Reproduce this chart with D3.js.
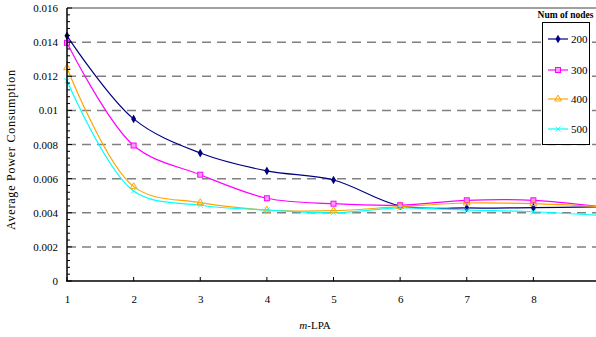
<!DOCTYPE html>
<html><head><meta charset="utf-8">
<script src="https://cdn.jsdelivr.net/npm/d3@7"></script>
<style>body{margin:0;background:#fff}svg{display:block}</style>
</head><body>
<svg id="c" width="596" height="337"></svg>
<script>
const xValues = [1, 2, 3, 4, 5, 6, 7, 8, 9];
const seriesNames = ["200", "300", "400", "500"];
const s200 = [0.01437, 0.0095, 0.0075, 0.00645, 0.00592, 0.0044, 0.00428, 0.0043, 0.00435];
const s300 = [0.01396, 0.00794, 0.00623, 0.00485, 0.00453, 0.00444, 0.00473, 0.00473, 0.00436];
const s400 = [0.0125, 0.00553, 0.00459, 0.00416, 0.00412, 0.00436, 0.00457, 0.00453, 0.00436];
const s500 = [0.01173, 0.00528, 0.00444, 0.00416, 0.004, 0.00428, 0.00416, 0.00406, 0.00385];
const yTicks = [0, 0.002, 0.004, 0.006, 0.008, 0.01, 0.012, 0.014, 0.016];
const yTickLabels = ["0", "0.002", "0.004", "0.006", "0.008", "0.01", "0.012", "0.014", "0.016"];
const xTicks = [1, 2, 3, 4, 5, 6, 7, 8];
const legendTitle = "Num of nodes";

const colors = ["#000080", "#ff00ff", "#ffa500", "#00ffff"];
const allSeries = [s200, s300, s400, s500];

const svg = d3.select("#c");
const font = "'Liberation Serif','Times New Roman',serif";
const x = d3.scaleLinear().domain([1, 9]).range([67, 600]);
const y = d3.scaleLinear().domain([0, 0.016]).range([281, 8]);

// gridlines
const grid = svg.append("g");
yTicks.forEach(t => {
  if (t === 0) return;
  grid.append("line").attr("x1", 67).attr("x2", 596).attr("y1", y(t)).attr("y2", y(t))
    .attr("stroke", "#808080").attr("stroke-width", 1.5)
    .attr("stroke-dasharray", t === 0.016 ? null : "9,6");
});

// series
const line = d3.line().x((d, i) => x(xValues[i])).y(d => y(d)).curve(d3.curveCatmullRom.alpha(0.5));
const plot = svg.append("g");
allSeries.forEach((s, k) => {
  plot.append("path").attr("d", line(s)).attr("fill", "none")
    .attr("stroke", colors[k]).attr("stroke-width", 1.2);
});

function marker(g, k, cx, cy) {
  const c = colors[k];
  if (k === 0) {
    g.append("path").attr("d", d3.symbol(d3.symbolDiamond, 22)()).attr("transform", `translate(${cx},${cy})`).attr("fill", c);
  } else if (k === 1) {
    g.append("rect").attr("x", cx - 2.5).attr("y", cy - 2.5).attr("width", 5).attr("height", 5)
      .attr("fill", "#ff99ff").attr("stroke", c).attr("stroke-width", 1);
  } else if (k === 2) {
    g.append("path").attr("d", d3.symbol(d3.symbolTriangle, 20)()).attr("transform", `translate(${cx},${cy})`)
      .attr("fill", "none").attr("stroke", c).attr("stroke-width", 1);
  } else {
    g.append("path").attr("d", d3.symbol(d3.symbolTimes, 20)()).attr("transform", `translate(${cx},${cy})`)
      .attr("fill", c).attr("stroke", c).attr("stroke-width", 0.8);
  }
}
allSeries.forEach((s, k) => {
  s.forEach((v, i) => { if (xValues[i] <= 8) marker(plot, k, x(xValues[i]), y(v)); });
});

// y axis
const yAxis = d3.axisLeft(y).tickValues(yTicks).tickFormat((d, i) => yTickLabels[i]).tickSize(0).tickPadding(9);
const ya = svg.append("g").attr("transform", "translate(67,0)").call(yAxis);
ya.select(".domain").remove();
ya.selectAll("text").attr("font-family", font).attr("font-size", 11).attr("fill", "#000");
svg.append("line").attr("x1", 67).attr("x2", 67).attr("y1", 8).attr("y2", 281).attr("stroke", "#000").attr("stroke-width", 1.5);
d3.range(0, 41).forEach(i => {
  const v = i * 0.0004;
  const major = i % 5 === 0;
  svg.append("line").attr("x1", 67).attr("x2", 67 + (major ? 5 : 3)).attr("y1", y(v)).attr("y2", y(v))
    .attr("stroke", "#000").attr("stroke-width", 1);
});

// x axis
const xAxis = d3.axisBottom(x).tickValues(xTicks).tickFormat(d3.format("d")).tickSize(0).tickPadding(14);
const xa = svg.append("g").attr("transform", "translate(0,281)").call(xAxis);
xa.select(".domain").remove();
xa.selectAll("text").attr("font-family", font).attr("font-size", 11).attr("fill", "#000");
svg.append("line").attr("x1", 66).attr("x2", 596).attr("y1", 281).attr("y2", 281).attr("stroke", "#000").attr("stroke-width", 1.5);
xTicks.forEach(t => {
  svg.append("line").attr("x1", x(t)).attr("x2", x(t)).attr("y1", 281).attr("y2", 277).attr("stroke", "#000").attr("stroke-width", 1);
});

// axis titles
const xt = svg.append("text").attr("x", 315).attr("y", 329).attr("text-anchor", "middle")
  .attr("font-family", font).attr("font-size", 11);
xt.append("tspan").attr("font-style", "italic").text("m");
xt.append("tspan").text("-LPA");
svg.append("text").attr("transform", "translate(14.5,150) rotate(-90)").attr("text-anchor", "middle")
  .attr("font-family", font).attr("font-size", 12).attr("textLength", 160).attr("lengthAdjust", "spacing")
  .text("Average Power Consumption");

// legend
svg.append("rect").attr("x", 542.5).attr("y", 22.5).attr("width", 47).attr("height", 122)
  .attr("fill", "#fff").attr("stroke", "#000").attr("stroke-width", 1);
svg.append("text").attr("x", 565.5).attr("y", 18).attr("text-anchor", "middle")
  .attr("font-family", font).attr("font-size", 9.5).attr("font-weight", "bold").text(legendTitle);
const ly = [39, 70, 99, 129];
seriesNames.forEach((n, k) => {
  svg.append("line").attr("x1", 548).attr("x2", 568).attr("y1", ly[k]).attr("y2", ly[k])
    .attr("stroke", colors[k]).attr("stroke-width", 1.2);
  marker(svg, k, 558, ly[k]);
  svg.append("text").attr("x", 571).attr("y", ly[k] + 4).attr("font-family", font)
    .attr("font-size", 11).text(n);
});
</script>
</body></html>
